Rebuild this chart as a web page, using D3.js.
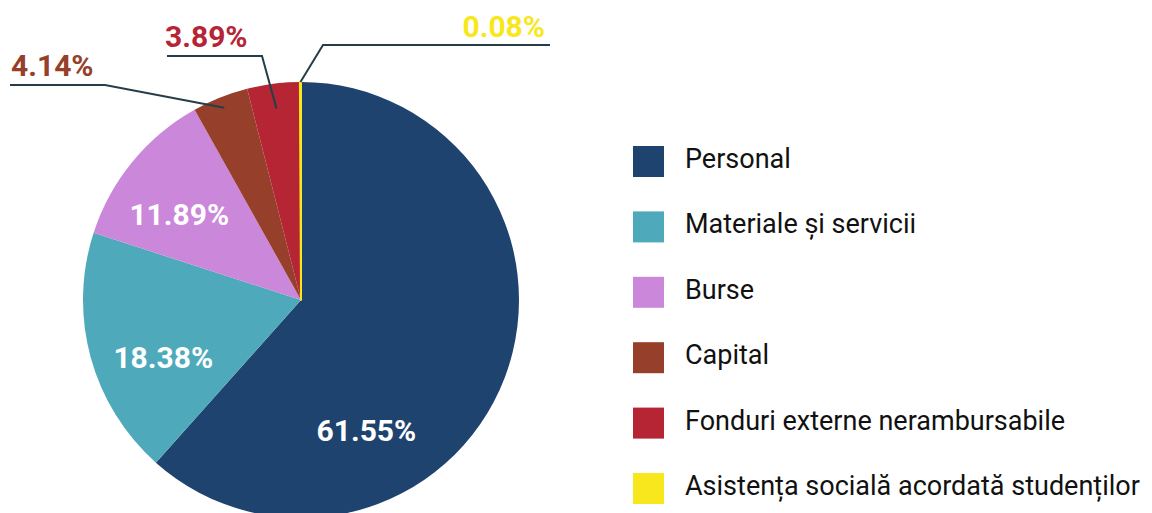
<!DOCTYPE html>
<html>
<head>
<meta charset="utf-8">
<script src="https://cdn.jsdelivr.net/npm/d3@7"></script>
<style>
  html, body { margin: 0; padding: 0; background: #ffffff; }
  svg { display: block; }
  text { font-family: Roboto, "Noto Sans", sans-serif; }
</style>
</head>
<body>
<svg id="chart" width="1152" height="513"></svg>
<script>
// Budget structure by spending category (percent of total)
const categories = [
  "Personal",
  "Materiale și servicii",
  "Burse",
  "Capital",
  "Fonduri externe nerambursabile",
  "Asistența socială acordată studenților"
];
const values = [61.55, 18.38, 11.89, 4.14, 3.89, 0.08];
const colors = ["#1f436f", "#4eaabb", "#cb87da", "#96402b", "#b52534", "#f8e71c"];

const svg = d3.select("#chart");
const cx = 301, cy = 300, R = 218;

const pie = d3.pie().sort(null).value(d => d.value)
  .startAngle(0).endAngle(2 * Math.PI);
const data = categories.map((c, i) => ({ name: c, value: values[i], color: colors[i] }));
const arcs = pie(data);

const arc = d3.arc().innerRadius(0).outerRadius(R);
const g = svg.append("g").attr("transform", `translate(${cx},${cy})`);

g.selectAll("path.slice")
  .data(arcs)
  .enter().append("path")
  .attr("class", "slice")
  .attr("d", arc)
  .attr("fill", d => d.data.color)
  // the tiniest slice gets an outline so it stays visible
  .attr("stroke", d => d.data.value < 1 ? d.data.color : "none")
  .attr("stroke-width", 2)
  .attr("stroke-linejoin", "round");

const fmt = v => v.toFixed(2) + "%";
const polar = (a, r) => [r * Math.sin(a), -r * Math.cos(a)];

// Labels inside the three large slices
const inside = [
  { i: 0, angle: 153.4, r: 146 },
  { i: 1, angle: 247.6, r: 149 },
  { i: 2, angle: 305.2, r: 149 }
];
inside.forEach(l => {
  const [x, y] = polar(l.angle * Math.PI / 180, l.r);
  g.append("text")
    .attr("x", x).attr("y", y)
    .attr("dy", "0.36em")
    .attr("text-anchor", "middle")
    .attr("font-size", 30)
    .attr("font-weight", 700)
    .attr("fill", "#ffffff")
    .text(fmt(values[l.i]));
});

// Leader-line callouts for the small slices
const callouts = [
  { i: 3, rIn: 0.95, elbow: [-196, -215], end: [-291, -215], textAnchor: "start", tx: -290, ty: -224 },
  { i: 4, rIn: 0.885, elbow: [-39, -244], end: [-134, -244], textAnchor: "start", tx: -136, ty: -253 },
  { i: 5, rIn: 1.0, elbow: [22, -255], end: [249, -255], textAnchor: "end", tx: 244, ty: -263 }
];
const lineColor = "#263d49";
callouts.forEach(c => {
  const a = arcs[c.i];
  const mid = (a.startAngle + a.endAngle) / 2;
  const p0 = polar(mid, R * c.rIn);
  g.append("path")
    .attr("d", d3.line()([p0, c.elbow, c.end]))
    .attr("fill", "none")
    .attr("stroke", lineColor)
    .attr("stroke-width", 2);
  g.append("text")
    .attr("x", c.tx).attr("y", c.ty)
    .attr("text-anchor", c.textAnchor)
    .attr("font-size", 30)
    .attr("font-weight", 700)
    .attr("fill", colors[c.i])
    .text(fmt(values[c.i]));
});

// Legend
const legend = svg.append("g").attr("transform", "translate(633,146)");
const rowH = 65.4;
const items = legend.selectAll("g.item")
  .data(data)
  .enter().append("g")
  .attr("class", "item")
  .attr("transform", (d, i) => `translate(0,${i * rowH})`);
items.append("rect")
  .attr("width", 31).attr("height", 31)
  .attr("fill", d => d.color);
items.append("text")
  .attr("x", 52).attr("y", 22)
  .attr("font-size", 27)
  .attr("fill", "#111111")
  .text(d => d.name);
</script>
</body>
</html>
